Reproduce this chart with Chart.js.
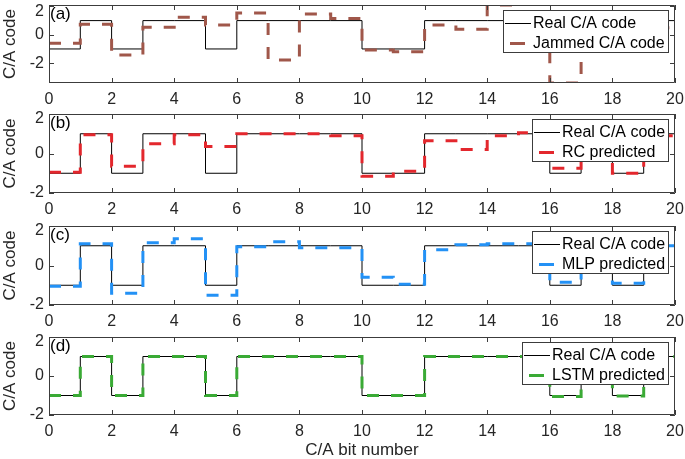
<!DOCTYPE html>
<html>
<head>
<meta charset="utf-8">
<script src="https://cdn.jsdelivr.net/npm/chart.js@4.4.1/dist/chart.umd.min.js"></script>
<style>
  html, body { margin: 0; padding: 0; background: #fff; }
  #wrap { position: relative; width: 685px; height: 459px; overflow: hidden; }
  #wrap canvas { position: absolute; left: 0; }
</style>
</head>
<body>
<div id="wrap">
  <canvas id="panelA" width="685" height="110" style="top:0px"></canvas>
  <canvas id="panelB" width="685" height="110" style="top:109px"></canvas>
  <canvas id="panelC" width="685" height="110" style="top:221px"></canvas>
  <canvas id="panelD" width="685" height="127" style="top:332px"></canvas>
</div>
<script>
// valores (un valor por bit, bits 0..19)
const bitTicks = [0, 2, 4, 6, 8, 10, 12, 14, 16, 18, 20];
const codeTicks = [-2, 0, 2];
const realCode = [-1, 1, -1, 1, 1, -1, 1, 1, 1, 1, -1, -1, 1, 1, 1, 1, -1, 1, -1, 1];
const jammedCode = [-0.6, 0.74, -1.42, 0.53, 1.23, 0.69, 1.54, -1.78, 1.47, 1.15, -1.07, -1.19, 0.69, 0.39, 2.1, 1.3, -3.4, 0.8, -0.8, 0.5];
const rcPredicted = [-0.95, 0.95, -0.65, 0.5, 0.95, 0.35, 1.0, 1.0, 1.0, 0.9, -1.15, -0.9, 0.65, 0.2, 0.9, 1.05, -0.75, 0.9, -1.0, 0.9];
const mlpPredicted = [-1.05, 1.1, -1.4, 1.15, 1.35, -1.5, 0.95, 1.2, 0.9, 0.9, -0.6, -0.95, 0.8, 1.05, 1.1, 1.1, -0.85, 0.9, -0.9, 1.0];
const lstmPredicted = [-1, 1, -1, 1, 1, -1, 1, 1, 1, 1, -1, -1, 1, 1, 1, 1, -1.05, 1, -1.02, 1];

Chart.defaults.font.family = '"Liberation Sans", Arial, sans-serif';
Chart.defaults.color = '#262626';

// cada bit se mantiene hasta el siguiente, se repite el ultimo en x = 20
const toSteps = function (values) {
  let pts = values.map(function (v, i) {
    return { x: i, y: v };
  });
  pts.push({ x: values.length, y: values[values.length - 1] });
  return pts;
};

// marco con ticks hacia adentro, etiqueta del panel y leyenda
const marcoEjes = {
  id: 'marcoEjes',
  afterDatasetsDraw(chart, args, opts) {
    const { ctx, chartArea: area } = chart;
    const x = chart.scales.x;
    const y = chart.scales.y;
    ctx.save();
    ctx.strokeStyle = '#3c3c3c';
    ctx.lineWidth = 1;
    ctx.setLineDash([]);
    ctx.beginPath();
    ctx.rect(area.left + 0.5, area.top + 0.5, area.width - 1, area.height - 1);
    bitTicks.forEach(function (v) {
      const px = Math.round(x.getPixelForValue(v)) + 0.5;
      ctx.moveTo(px, area.top);
      ctx.lineTo(px, area.top + 5);
      ctx.moveTo(px, area.bottom);
      ctx.lineTo(px, area.bottom - 5);
    });
    codeTicks.forEach(function (v) {
      const py = Math.round(y.getPixelForValue(v)) + 0.5;
      ctx.moveTo(area.left, py);
      ctx.lineTo(area.left + 5, py);
      ctx.moveTo(area.right, py);
      ctx.lineTo(area.right - 5, py);
    });
    ctx.stroke();

    ctx.fillStyle = '#000';
    ctx.font = '17px "Liberation Sans", Arial, sans-serif';
    ctx.textBaseline = 'middle';
    ctx.textAlign = 'left';
    ctx.fillText(opts.tag, area.left + 1, area.top + 9);

    ctx.font = '16px "Liberation Sans", Arial, sans-serif';
    let textW = 0;
    for (let { label } of opts.entries) {
      textW = Math.max(textW, ctx.measureText(label).width);
    }
    const w = Math.round(2 + 26 + 2 + textW + 3);
    const h = 42;
    const right = area.right - 7;
    const left = right - w;
    const top = area.top + 5;
    ctx.fillStyle = '#fff';
    ctx.fillRect(left, top, w, h);
    ctx.strokeStyle = '#3c3c3c';
    ctx.lineWidth = 1;
    ctx.strokeRect(left + 0.5, top + 0.5, w, h);
    opts.entries.forEach(function (e, i) {
      const cy = Math.round(top + 12.5 + i * 20.5) + 0.5;
      ctx.beginPath();
      ctx.strokeStyle = e.color;
      ctx.lineWidth = e.width;
      if (e.dashed) {
        ctx.moveTo(left + 7, cy);
        ctx.lineTo(left + 22, cy);
      } else {
        ctx.moveTo(left + 2, cy);
        ctx.lineTo(left + 28, cy);
      }
      ctx.stroke();
      ctx.fillStyle = '#000';
      ctx.fillText(e.label, left + 30, cy);
    });
    ctx.restore();
  },
};

const crearPanel = function (canvasId, prediccion, etiqueta, color, cfg) {
  return new Chart(document.getElementById(canvasId).getContext('2d'), {
    type: 'line',
    data: {
      datasets: [
        {
          label: 'Real C/A code',
          data: toSteps(realCode),
          borderColor: '#000000',
          borderWidth: 1,
          stepped: true,
          pointRadius: 0,
          order: 2,
        },
        {
          label: etiqueta,
          data: toSteps(prediccion),
          borderColor: color,
          borderWidth: 3,
          borderDash: [12, 12],
          stepped: true,
          pointRadius: 0,
          order: 1,
        },
      ],
    },
    options: {
      responsive: false,
      animation: false,
      events: [],
      layout: { padding: { top: 5, right: 10, left: 0, bottom: 0 } },
      plugins: {
        legend: { display: false },
        tooltip: { enabled: false },
        marcoEjes: {
          tag: cfg.tag,
          entries: [
            { label: 'Real C/A code', color: '#000000', width: 1, dashed: false },
            { label: etiqueta, color: color, width: 3, dashed: true },
          ],
        },
      },
      scales: {
        x: {
          type: 'linear',
          min: 0,
          max: 20,
          afterBuildTicks: function (s) {
            s.ticks = bitTicks.map((v) => ({ value: v }));
          },
          ticks: { font: { size: 16 }, padding: 7, maxRotation: 0, autoSkip: false },
          grid: { display: false, drawTicks: false },
          border: { display: false },
          title: {
            display: !!cfg.xTitle,
            text: cfg.xTitle || '',
            font: { size: 17, lineHeight: 1 },
            padding: 0,
          },
          afterFit: function (s) {
            s.height = cfg.xHeight;
            s.paddingLeft = 0;
            s.paddingRight = 0;
          },
        },
        y: {
          type: 'linear',
          min: cfg.yMin,
          max: cfg.yMax,
          afterBuildTicks: function (s) {
            s.ticks = codeTicks.map((v) => ({ value: v }));
          },
          ticks: {
            font: { size: 16, lineHeight: 0.6 },
            padding: 5,
            callback: function (v) {
              return v === 2 ? ['', '2'] : String(v);
            },
          },
          grid: { display: false, drawTicks: false },
          border: { display: false },
          title: { display: true, text: 'C/A code', font: { size: 17 }, padding: 0 },
          afterFit: function (s) {
            s.width = 49;
            s.paddingTop = 0;
            s.paddingBottom = 0;
          },
        },
      },
    },
    plugins: [marcoEjes],
  });
};

crearPanel('panelA', jammedCode, 'Jammed C/A code', '#a0574a', { tag: '(a)', yMin: -3.4, yMax: 2.1, xHeight: 27 });
crearPanel('panelB', rcPredicted, 'RC predicted', '#e3272d', { tag: '(b)', yMin: -2, yMax: 2, xHeight: 26 });
crearPanel('panelC', mlpPredicted, 'MLP predicted', '#2391f5', { tag: '(c)', yMin: -2, yMax: 2, xHeight: 26 });
crearPanel('panelD', lstmPredicted, 'LSTM predicted', '#3aaa35', { tag: '(d)', yMin: -2, yMax: 2, xHeight: 44, xTitle: 'C/A bit number' });
</script>
</body>
</html>
